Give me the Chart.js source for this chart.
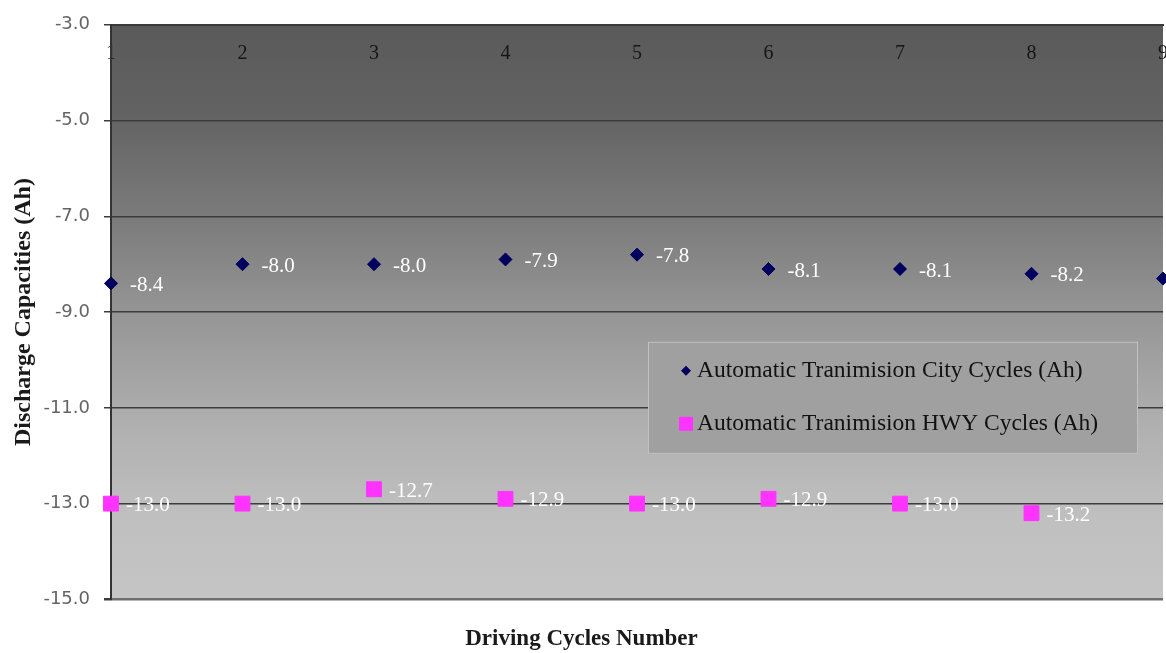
<!DOCTYPE html>
<html>
<head>
<meta charset="utf-8">
<script src="https://cdn.jsdelivr.net/npm/chart.js@4.4.1/dist/chart.umd.min.js"></script>
<style>
  html, body { margin: 0; padding: 0; background: #ffffff; overflow: hidden; }
  #c { display: block; }
</style>
</head>
<body>
<canvas id="c" width="1166" height="653"></canvas>
<script>
// Driving cycle numbers (category axis)
const cycles = ['1', '2', '3', '4', '5', '6', '7', '8', '9'];
// Discharge capacity per cycle, Ah
const cityCycles = [-8.4, -8.0, -8.0, -7.9, -7.8, -8.1, -8.1, -8.2, -8.3];
const hwyCycles = [-13.0, -13.0, -12.7, -12.9, -13.0, -12.9, -13.0, -13.2, null];
// Value axis ticks
const yTicks = [-3, -5, -7, -9, -11, -13, -15];
const seriesNames = ['Automatic Tranimision City Cycles (Ah)', 'Automatic Tranimision HWY Cycles (Ah)'];
const xTitle = 'Driving Cycles Number';
const yTitle = 'Discharge Capacities (Ah)';

const SERIF = "'Liberation Serif', 'Times New Roman', serif";

// Grey gradient fill behind the plot area
const plotBackground = {
  id: 'plotBackground',
  beforeDraw(chart) {
    const { ctx, chartArea: a } = chart;
    const g = ctx.createLinearGradient(0, a.top, 0, a.bottom);
    g.addColorStop(0.00, '#5a5a5a');
    g.addColorStop(0.15, '#626262');
    g.addColorStop(0.35, '#7d7d7d');
    g.addColorStop(0.50, '#959595');
    g.addColorStop(0.70, '#b0b0b0');
    g.addColorStop(0.85, '#bfbfbf');
    g.addColorStop(1.00, '#c5c5c5');
    ctx.save();
    ctx.fillStyle = g;
    ctx.fillRect(a.left, a.top, a.right - a.left, a.bottom - a.top);
    ctx.restore();
  }
};

// Value labels to the right of each marker
const valueLabels = {
  id: 'valueLabels',
  afterDatasetsDraw(chart) {
    const { ctx } = chart;
    ctx.save();
    ctx.fillStyle = '#ffffff';
    ctx.font = '21px ' + SERIF;
    ctx.textAlign = 'left';
    ctx.textBaseline = 'middle';
    chart.data.datasets.forEach((ds, i) => {
      const meta = chart.getDatasetMeta(i);
      const dx = i === 0 ? 19 : 15;
      meta.data.forEach((pt, j) => {
        const v = ds.data[j];
        if (v === null || v === undefined) return;
        ctx.fillText(v.toFixed(1), pt.x + dx, pt.y + 2);
      });
    });
    ctx.restore();
  }
};

// Boxed legend placed inside the plot area
const insideLegend = {
  id: 'insideLegend',
  afterDraw(chart) {
    const { ctx, chartArea: a } = chart;
    const x = a.right - 515, y = a.top + 317, w = 490, h = 112;
    ctx.save();
    ctx.fillStyle = '#a0a0a0';
    ctx.fillRect(x, y, w, h);
    ctx.strokeStyle = 'rgba(255,255,255,0.35)';
    ctx.lineWidth = 1;
    ctx.strokeRect(x + 0.5, y + 0.5, w - 1, h - 1);
    ctx.font = '23.5px ' + SERIF;
    ctx.textBaseline = 'middle';
    ctx.textAlign = 'left';
    chart.data.datasets.forEach((ds, i) => {
      const cy = y + 29 + i * 53;
      const cx = x + 38;
      ctx.fillStyle = ds.backgroundColor;
      if (ds.pointStyle === 'rectRot') {
        const r = 5;
        ctx.beginPath();
        ctx.moveTo(cx, cy - r);
        ctx.lineTo(cx + r, cy);
        ctx.lineTo(cx, cy + r);
        ctx.lineTo(cx - r, cy);
        ctx.closePath();
        ctx.fill();
      } else {
        ctx.fillRect(cx - 7, cy - 7, 14, 14);
      }
      ctx.fillStyle = '#111111';
      ctx.fillText(ds.label, x + 49, cy);
    });
    ctx.restore();
  }
};

new Chart(document.getElementById('c'), {
  type: 'line',
  data: {
    labels: cycles,
    datasets: [
      {
        label: seriesNames[0],
        data: cityCycles,
        showLine: false,
        pointStyle: 'rectRot',
        pointRadius: 6.5,
        pointHoverRadius: 6.5,
        backgroundColor: '#00005e',
        borderColor: '#00005e',
        borderWidth: 1
      },
      {
        label: seriesNames[1],
        data: hwyCycles,
        showLine: false,
        pointStyle: 'rect',
        pointRadius: 10.5,
        pointHoverRadius: 10.5,
        backgroundColor: '#ff33ff',
        borderColor: '#ff33ff',
        borderWidth: 1
      }
    ]
  },
  options: {
    responsive: false,
    animation: false,
    devicePixelRatio: 1,
    layout: { autoPadding: false, padding: { left: 0, right: 3, top: 0, bottom: 0 } },
    plugins: {
      legend: { display: false },
      tooltip: { enabled: false },
      title: {
        display: true,
        position: 'bottom',
        text: xTitle,
        color: '#1a1a1a',
        font: { family: SERIF, size: 23, weight: 'bold' },
        padding: { top: 26, bottom: 0 }
      }
    },
    scales: {
      x: {
        type: 'category',
        position: 'top',
        offset: false,
        grid: { display: false, drawTicks: false },
        border: { display: true, color: '#3a3a3a', width: 2 },
        ticks: {
          color: '#161616',
          font: { family: SERIF, size: 20 },
          mirror: true,
          padding: 17,
          maxRotation: 0,
          autoSkip: false
        },
        afterFit(s) { s.height = 21; s.paddingLeft = 0; s.paddingRight = 0; }
      },
      y: {
        min: -15,
        max: -3,
        afterBuildTicks(s) { s.ticks = yTicks.map(v => ({ value: v })); },
        ticks: {
          callback: v => Number(v).toFixed(1),
          color: '#646464',
          font: { family: "'DejaVu Sans', sans-serif", size: 18 },
          padding: 14
        },
        grid: {
          color: ctx => (ctx.tick && ctx.tick.value === -15) ? '#6e6e6e' : '#3c3c3c',
          lineWidth: ctx => (ctx.tick && ctx.tick.value === -15) ? 2.5 : 1.5,
          tickLength: 7,
          tickColor: '#3c3c3c'
        },
        border: { display: true, color: '#333333', width: 2 },
        title: {
          display: true,
          text: yTitle,
          color: '#1a1a1a',
          font: { family: SERIF, size: 24, weight: 'bold' },
          padding: { top: 9, bottom: 0 }
        },
        afterFit(s) { s.width = 111; }
      }
    }
  },
  plugins: [plotBackground, valueLabels, insideLegend]
});
</script>
</body>
</html>
